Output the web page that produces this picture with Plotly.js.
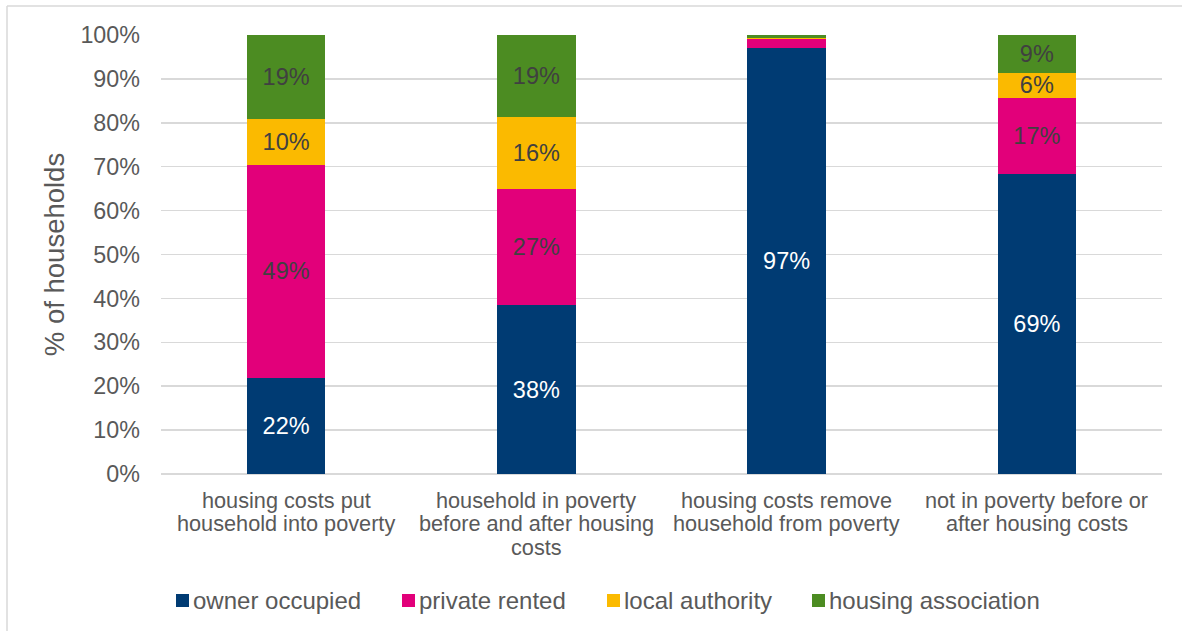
<!DOCTYPE html>
<html>
<head>
<meta charset="utf-8">
<script src="https://cdn.plot.ly/plotly-3.0.1.min.js"></script>
<style>html,body{margin:0;padding:0;background:#fff;}#chart{width:1182px;height:631px;}</style>
</head>
<body>
<div id="chart"></div>
<script>
const categories = [
  'housing costs put<br>household into poverty',
  'household in poverty<br>before and after housing<br>costs',
  'housing costs remove<br>household from poverty',
  'not in poverty before or<br>after housing costs'
];
const seriesNames = ['owner occupied', 'private rented', 'local authority', 'housing association'];
const seriesColors = ['#003B73', '#E2007A', '#FBBA00', '#4C8C22'];
const ownerOccupied = [21.9, 38.4, 97.1, 68.4];
const privateRented = [48.6, 26.6, 2.0, 17.3];
const localAuthority = [10.4, 16.3, 0.3, 5.7];
const housingAssociation = [19.1, 18.7, 0.6, 8.6];
const ownerLabels = ['22%', '38%', '97%', '69%'];
const privateLabels = ['49%', '27%', '', '17%'];
const localLabels = ['10%', '16%', '', '6%'];
const haLabels = ['19%', '19%', '', '9%'];
const tickValsY = [0, 10, 20, 30, 40, 50, 60, 70, 80, 90, 100];

const FONT = 'Liberation Sans, Arial, sans-serif';
const GREY = '#595959';
// plot area in pixels
const PL = 161, PR = 1162, PT = 35, PB = 474;
const px2x = px => (px - PL) / (PR - PL);
const px2y = py => (PB - py) / (PB - PT);

function mk(i, y, text, tcolor) {
  return {
    type: 'bar', name: seriesNames[i], x: [0, 1, 2, 3], y: y, text: text,
    textposition: 'inside', insidetextanchor: 'middle', textangle: 0,
    texttemplate: '%{text}',
    insidetextfont: {family: FONT, size: 23.5, color: tcolor},
    constraintext: 'none',
    marker: {color: seriesColors[i], line: {width: 0}},
    width: 0.314, hoverinfo: 'skip', showlegend: false
  };
}
const data = [
  mk(0, ownerOccupied, ownerLabels, '#ffffff'),
  mk(1, privateRented, privateLabels, '#404040'),
  mk(2, localAuthority, localLabels, '#404040'),
  mk(3, housingAssociation, haLabels, '#404040')
];

const annotations = [];
categories.forEach((c, ci) => {
  c.split('<br>').forEach((line, li) => {
    annotations.push({
      xref: 'x', yref: 'paper', x: ci, y: px2y(500 + 23.5 * li),
      text: line, showarrow: false, xanchor: 'center', yanchor: 'middle',
      font: {family: FONT, size: 21.7, color: GREY}
    });
  });
});
const legendSquareX = [176, 402, 607, 812];
const shapes = [
  {type: 'line', xref: 'paper', yref: 'paper', x0: px2x(7), x1: px2x(7), y0: px2y(6), y1: px2y(640), line: {color: '#d9d9d9', width: 1.5}},
  {type: 'line', xref: 'paper', yref: 'paper', x0: px2x(7), x1: px2x(1190), y0: px2y(6), y1: px2y(6), line: {color: '#d9d9d9', width: 1.5}}
];
seriesNames.forEach((n, i) => {
  const sx = legendSquareX[i];
  shapes.push({type: 'rect', xref: 'paper', yref: 'paper',
    x0: px2x(sx), x1: px2x(sx + 13), y0: px2y(594), y1: px2y(607),
    fillcolor: seriesColors[i], line: {width: 0}});
  annotations.push({xref: 'paper', yref: 'paper', x: px2x(sx + 15), y: px2y(600),
    text: n, showarrow: false, xanchor: 'left', yanchor: 'middle',
    font: {family: FONT, size: 24, color: GREY}});
});

const layout = {
  width: 1182, height: 631,
  margin: {l: PL, r: 1182 - PR, t: PT, b: 631 - PB, pad: 0},
  barmode: 'stack',
  paper_bgcolor: '#ffffff', plot_bgcolor: '#ffffff',
  font: {family: FONT, color: GREY},
  showlegend: false,
  xaxis: {
    tickmode: 'array', tickvals: [0, 1, 2, 3], showticklabels: false,
    range: [-0.5, 3.5], showgrid: false, zeroline: false,
    showline: false, ticks: ''
  },
  yaxis: {
    range: [0, 100], tickmode: 'array', tickvals: tickValsY,
    ticktext: tickValsY.map(v => v + '%'),
    showgrid: true, gridcolor: '#d9d9d9', gridwidth: 1.5,
    zeroline: true, zerolinecolor: '#d9d9d9', zerolinewidth: 2,
    ticks: '', tickfont: {family: FONT, size: 23.3, color: GREY},
    ticklabelstandoff: 20,
    title: {text: '% of households', font: {family: FONT, size: 27.5, color: GREY}, standoff: 7}
  },
  shapes: shapes,
  annotations: annotations
};
Plotly.newPlot('chart', data, layout, {displayModeBar: false, staticPlot: true});
</script>
</body>
</html>
